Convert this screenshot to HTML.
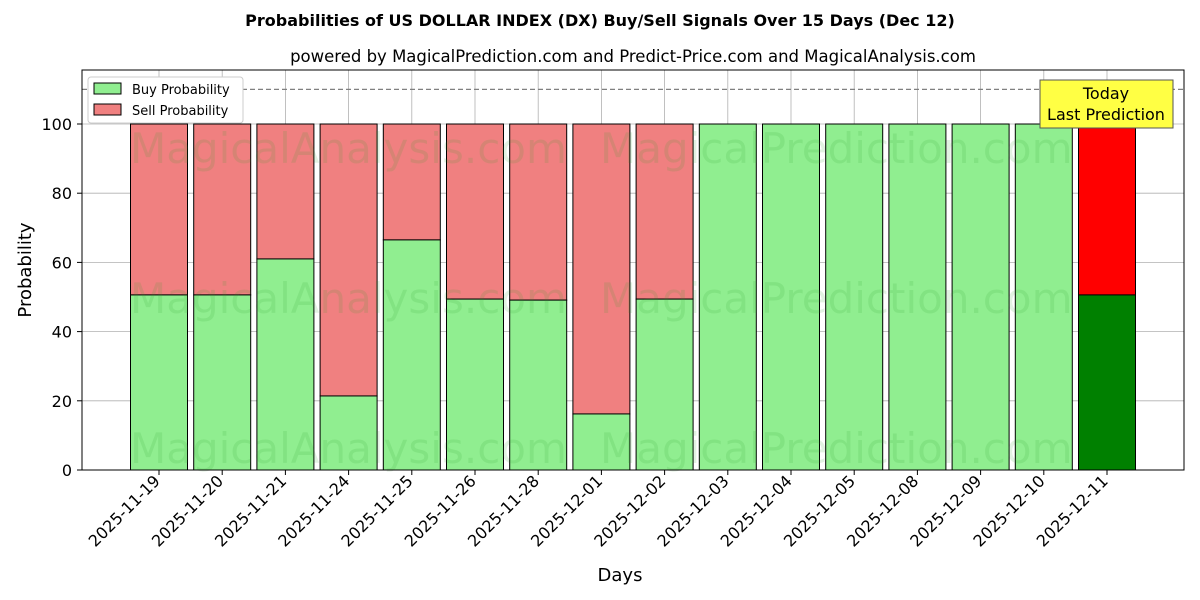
<!DOCTYPE html>
<html><head><meta charset="utf-8"><style>
body{margin:0;background:#fff;}
svg{display:block;font-family:"DejaVu Sans","Liberation Sans",sans-serif;}
</style></head><body>
<svg id="chart" width="1200" height="600" viewBox="0 0 1200 600">
<text x="600" y="26" text-anchor="middle" font-size="16" font-weight="bold">Probabilities of US DOLLAR INDEX (DX) Buy/Sell Signals Over 15 Days (Dec 12)</text>
<text x="633" y="62" text-anchor="middle" font-size="16.5">powered by MagicalPrediction.com and Predict-Price.com and MagicalAnalysis.com</text>
<g id="grid"></g>
<g id="bars"></g>
<g id="wm" fill="#2ca02c" opacity="0.13" font-size="42">
<text x="130" y="163">MagicalAnalysis.com</text>
<text x="600" y="163">MagicalPrediction.com</text>
<text x="130" y="313">MagicalAnalysis.com</text>
<text x="600" y="313">MagicalPrediction.com</text>
<text x="130" y="463">MagicalAnalysis.com</text>
<text x="600" y="463">MagicalPrediction.com</text>
</g>
<line id="ref" x1="82" x2="1184" stroke="#808080" stroke-width="1.3" stroke-dasharray="5,3"/>
<rect x="82" y="70" width="1102" height="400" fill="none" stroke="#000" stroke-width="1"/>
<g id="axes"></g>
<text x="620" y="581" text-anchor="middle" font-size="18">Days</text>
<text transform="translate(31,270) rotate(-90)" text-anchor="middle" font-size="18">Probability</text>
<g>
<rect x="88" y="77" width="155" height="46" fill="#fff" stroke="#ccc" rx="3"/>
<rect x="94" y="83" width="27" height="11" fill="#90ee90" stroke="#000"/>
<text x="132" y="94" font-size="13">Buy Probability</text>
<rect x="94" y="104" width="27" height="11" fill="#f08080" stroke="#000"/>
<text x="132" y="115" font-size="13">Sell Probability</text>
</g>
<g>
<rect x="1040" y="80" width="133" height="48" fill="#ffff44" stroke="#555"/>
<text x="1106" y="99" text-anchor="middle" font-size="16">Today</text>
<text x="1106" y="120" text-anchor="middle" font-size="16">Last Prediction</text>
</g>
</svg>
<script>
const days=["2025-11-19","2025-11-20","2025-11-21","2025-11-24","2025-11-25","2025-11-26","2025-11-28","2025-12-01","2025-12-02","2025-12-03","2025-12-04","2025-12-05","2025-12-08","2025-12-09","2025-12-10","2025-12-11"];
const buyValues=[50.6,50.6,61.0,21.4,66.5,49.4,49.1,16.2,49.4,100,100,100,100,100,100,50.6];
const yTicks=[0,20,40,60,80,100];
const refValue=110;
const NS="http://www.w3.org/2000/svg";
const yS=v=>470-v*3.46;
const xS=i=>159+i*63.2;
const grid=document.getElementById('grid'),bars=document.getElementById('bars'),axes=document.getElementById('axes');
function mk(tag,at,parent){const e=document.createElementNS(NS,tag);for(const k in at)e.setAttribute(k,at[k]);parent.appendChild(e);return e;}
yTicks.forEach(t=>{
 const g=mk('line',{x1:82,x2:1184,y1:yS(t),y2:yS(t),stroke:'#b0b0b0','stroke-width':0.8},grid);
 
 
 mk('line',{x1:77,x2:82,y1:yS(t),y2:yS(t),stroke:'#000'},axes);
 const l=mk('text',{x:72,y:yS(t)+6,'text-anchor':'end','font-size':16},axes);
 l.textContent=t;
 
 
});
days.forEach((d,i)=>{
 const cx=xS(i),last=i===days.length-1;
 const g=mk('line',{x1:cx,x2:cx,y1:70,y2:470,stroke:'#b0b0b0','stroke-width':0.8},grid);
 
 
 const b=buyValues[i];
 const s=mk('rect',{x:cx-28.5,y:yS(100),width:57,height:yS(b)-yS(100),fill:last?'#ff0000':'#f08080',stroke:'#000','stroke-width':1},bars);
 
 
 const r=mk('rect',{x:cx-28.5,y:yS(b),width:57,height:yS(0)-yS(b),fill:last?'#008000':'#90ee90',stroke:'#000','stroke-width':1},bars);
 
 
 mk('line',{x1:cx,x2:cx,y1:470,y2:475,stroke:'#000'},axes);
 const t=mk('text',{transform:`translate(${cx+2},${482}) rotate(-45)`,'text-anchor':'end','font-size':16},axes);
 t.textContent=d;
 
 
});
const ref=document.getElementById('ref');ref.setAttribute('y1',yS(refValue));ref.setAttribute('y2',yS(refValue));
</script>
</body></html>
